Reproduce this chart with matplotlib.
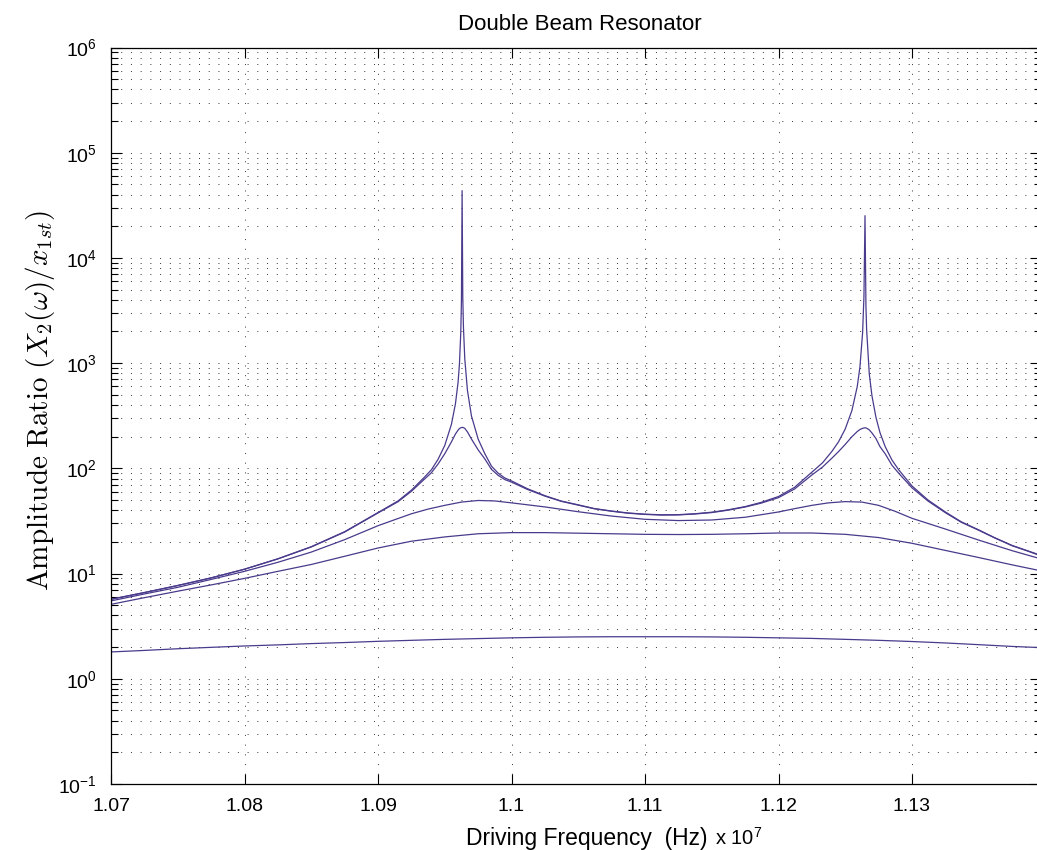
import math
import matplotlib
matplotlib.use('Agg')
import matplotlib.pyplot as plt
from matplotlib.ticker import FixedLocator, LogLocator, NullFormatter, FuncFormatter

plt.rcParams['font.family'] = ['Liberation Sans', 'DejaVu Sans']
plt.rcParams['mathtext.fontset'] = 'cm'

# driving frequency (x 10^7 Hz), dense near the two sharp peaks
freq_fine = [1.0700, 1.0725, 1.0750, 1.0775, 1.0800, 1.0825, 1.0850, 1.0875, 1.0900, 1.0915,
             1.0925, 1.0935, 1.0940, 1.0945, 1.0950, 1.0955, 1.0958, 1.0960, 1.0961, 1.0962,
             1.09625, 1.0963, 1.09635, 1.0964, 1.0965, 1.0967, 1.0970, 1.0975, 1.0980, 1.0985,
             1.0990, 1.0995, 1.1000, 1.1012, 1.1025, 1.1037, 1.1050, 1.1062, 1.1075, 1.1087,
             1.1100, 1.1112, 1.1125, 1.1137, 1.1150, 1.1162, 1.1175, 1.1187, 1.1200, 1.1212,
             1.1225, 1.1233, 1.1240, 1.1245, 1.1250, 1.1255, 1.1259, 1.1261, 1.1263, 1.1264,
             1.12648, 1.12655, 1.1266, 1.1268, 1.1270, 1.1273, 1.1276, 1.1280, 1.1285, 1.1290,
             1.1300, 1.1312, 1.1325, 1.1337, 1.1350, 1.1362, 1.1375, 1.1387, 1.1400]

# lightest damping
amp_a = [5.7, 6.6, 7.7, 9.1, 11.0, 13.8, 18.0, 25.0, 38.0, 49.0,
         62.0, 83.0, 97.0, 122, 165, 262, 410, 660, 980, 1950,
         3900, 43600, 4300, 2200, 1100, 550, 315, 190, 138, 105,
         90.0, 81.0, 76.0, 64.0, 55.0, 49.0, 45.0, 41.5, 39.3, 37.7,
         36.7, 36.2, 36.3, 37.0, 38.3, 40.3, 43.3, 47.5, 54.0, 66.0,
         92.0, 113, 145, 179, 237, 355, 600, 920, 1950, 4300,
         25200, 3500, 2100, 790, 490, 305, 219, 160, 120, 97.0,
         68.0, 50.0, 38.5, 31.0, 26.0, 21.9, 18.5, 16.4, 14.4]

amp_b = [5.7, 6.6, 7.7, 9.1, 11.0, 13.8, 17.9, 24.8, 37.7, 48.2,
         60.5, 79.4, 90.9, 110, 137.6, 178.5, 212, 231, 239, 243,
         244, 245, 245, 244, 240, 222, 190, 150, 123, 97.8,
         85.8, 78.2, 74.0, 63.0, 54.5, 48.7, 44.7, 41.3, 39.1, 37.5,
         36.5, 36.0, 36.1, 36.8, 38.0, 40.0, 42.9, 46.7, 52.7, 63.6,
         86.5, 103, 125, 144.5, 169, 200, 224, 234, 240, 242,
         243, 242, 241, 232, 217, 192, 161, 137, 107, 90.0,
         65.3, 48.9, 37.9, 30.7, 25.8, 21.8, 18.4, 16.3, 14.2]

freq_c = [1.0700, 1.0725, 1.0750, 1.0775, 1.0800, 1.0825, 1.0850, 1.0875, 1.0900, 1.09125,
          1.0925, 1.09375, 1.0950, 1.09625, 1.0975, 1.09875, 1.1000, 1.1025, 1.1050, 1.1075,
          1.1100, 1.1125, 1.1150, 1.1175, 1.1200, 1.12125, 1.1225, 1.12375, 1.1250, 1.12625,
          1.1275, 1.12875, 1.1300, 1.1325, 1.1350, 1.1375, 1.1400]

amp_c = [5.5, 6.4, 7.4, 8.8, 10.5, 12.8, 16.0, 21.0, 28.5, 32.5,
         37.0, 41.0, 44.5, 47.8, 49.5, 49.0, 47.0, 43.0, 38.7, 35.2,
         32.8, 31.9, 32.3, 34.3, 38.5, 41.5, 44.5, 47.0, 48.3, 47.8,
         44.5, 39.0, 33.5, 26.5, 20.8, 16.5, 13.4]

freq_coarse = [1.0700, 1.0725, 1.0750, 1.0775, 1.0800, 1.0825, 1.0850, 1.0875, 1.0900, 1.0925,
               1.0950, 1.0975, 1.1000, 1.1025, 1.1050, 1.1075, 1.1100, 1.1125, 1.1150, 1.1175,
               1.1200, 1.1225, 1.1250, 1.1275, 1.1300, 1.1325, 1.1350, 1.1375, 1.1400]

amp_d = [5.1, 5.9, 6.8, 7.8, 9.0, 10.5, 12.2, 14.6, 17.5, 20.3,
         22.3, 23.9, 24.5, 24.5, 24.2, 23.9, 23.6, 23.5, 23.6, 23.9,
         24.3, 24.3, 23.6, 22.0, 19.4, 16.6, 14.2, 12.1, 10.4]

# heaviest damping
amp_e = [1.80, 1.86, 1.93, 1.99, 2.05, 2.10, 2.16, 2.21, 2.27, 2.32,
         2.37, 2.41, 2.45, 2.48, 2.50, 2.51, 2.51, 2.51, 2.50, 2.48,
         2.45, 2.42, 2.37, 2.32, 2.26, 2.19, 2.11, 2.03, 1.97]

xticks = [1.07, 1.08, 1.09, 1.10, 1.11, 1.12, 1.13]
xticklabels = ['1.07', '1.08', '1.09', '1.1', '1.11', '1.12', '1.13']

W, H = 1037, 850
fig = plt.figure(figsize=(W / 100, H / 100), dpi=100)
# axes runs slightly past the right edge of the picture
ax = fig.add_axes([111 / W, 1 - 784 / H, (1041 - 111) / W, (784 - 47.5) / H])

col = '#4a3a8c'
for x, y in [(freq_fine, amp_a), (freq_fine, amp_b), (freq_c, amp_c),
             (freq_coarse, amp_d), (freq_coarse, amp_e)]:
    ax.plot(x, y, color=col, lw=0.9)

ax.set_yscale('log')
ax.set_ylim(1e-1, 1e6)
ax.set_xlim(1.07, 1.07 + (1041 - 111) / 13350)

ax.xaxis.set_major_locator(FixedLocator(xticks))
ax.set_xticklabels(xticklabels)
ax.yaxis.set_major_locator(LogLocator(base=10, numticks=20))
ax.yaxis.set_minor_locator(LogLocator(base=10, subs=range(2, 10), numticks=20))
ax.yaxis.set_major_formatter(FuncFormatter(lambda v, p: r'$\mathregular{10^{%d}}$' % round(math.log10(v))))
ax.yaxis.set_minor_formatter(NullFormatter())

ax.tick_params(which='both', direction='in', top=True, right=True, labelsize=14, width=0.8)
ax.tick_params(axis='x', which='major', length=7, pad=10)
ax.tick_params(axis='y', which='major', length=8, pad=10)
ax.tick_params(axis='y', which='minor', length=5)
for s in ax.spines.values():
    s.set_linewidth(0.9)

ax.grid(True, which='major', axis='x', ls=(0, (1, 9)), color='#333333', lw=0.7)
ax.grid(True, which='both', axis='y', ls=(0, (1, 9)), color='#333333', lw=0.7)

fig.text(580 / W, 1 - 24 / H, 'Double Beam Resonator', ha='center', va='center', fontsize=16)
fig.text(707 / W, 1 - 845 / H, 'Driving Frequency  (Hz)', ha='right', va='baseline', fontsize=16.5)
fig.text(715 / W, 1 - 845 / H, r'x $\mathregular{10^{7}}$', ha='left', va='baseline', fontsize=14.5)
fig.text(40 / W, 1 - 400 / H, r'$\mathrm{Amplitude\ Ratio}\ (X_2(\omega)/x_{1st})$',
         rotation=90, ha='center', va='center', fontsize=21)

fig.savefig('out.png', dpi=100)
